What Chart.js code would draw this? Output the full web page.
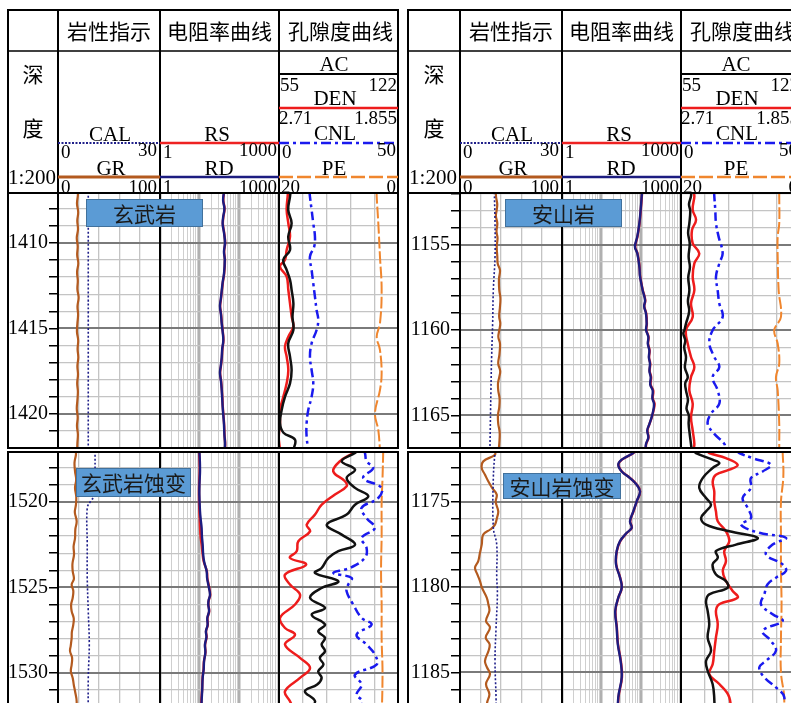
<!DOCTYPE html>
<html><head><meta charset="utf-8">
<script src="https://cdn.jsdelivr.net/npm/chart.js@4.4.0/dist/chart.umd.min.js"></script>
<style>
body{margin:0;background:#fff;}
#root{position:relative;width:791px;height:703px;overflow:hidden;background:#fff;}
canvas{position:absolute;}
.tag{position:absolute;background:#5b9bd5;border:1px solid #41719c;color:#1a1a1a;font:21px "Noto Sans CJK SC",sans-serif;text-align:center;box-sizing:border-box;white-space:nowrap;}
svg{position:absolute;left:0;top:0;}
</style></head><body><div id="root"></div>
<script>
// ---------- depth windows and tick labels ----------
const tlRange = [1407.08, 1421.99];
const trRange = [1151.95, 1166.91];
const blRange = [1517.08, 1532.75];
const brRange = [1172.07, 1187.79];
const tlDepthLabels = [1410, 1415, 1420];
const trDepthLabels = [1155, 1160, 1165];
const blDepthLabels = [1520, 1525, 1530];
const brDepthLabels = [1175, 1180, 1185];

// ---------- curve scales (left value, right value) ----------
const grScale = [0, 100];
const calScale = [0, 30];
const resScale = [1, 1000];
const acScale = [55, 122];
const denScale = [2.71, 1.855];
const cnlScale = [0, 50];
const peScale = [20, 0];
const resGridValues = [1,2,3,4,5,6,7,8,9,10,20,30,40,50,60,70,80,90,100,200,300,400,500,600,700,800,900,1000];

// ---------- 玄武岩 1407–1422 m  [depth, value] ----------
const tlGR = [[1407.0,19.3],[1407.2,19.5],[1407.7,18.6],[1408.2,19.8],[1408.7,18.9],[1409.2,19.6],[1409.7,18.4],[1410.2,19.3],[1410.7,18.8],[1411.2,19.9],[1411.7,18.7],[1412.2,19.4],[1412.7,19.0],[1413.2,20.2],[1413.7,19.1],[1414.2,19.7],[1414.7,19.0],[1415.2,18.6],[1415.7,19.8],[1416.2,19.2],[1416.7,19.9],[1417.2,19.0],[1417.7,19.6],[1418.2,18.8],[1418.7,19.5],[1419.2,19.0],[1419.7,18.4],[1420.2,19.3],[1420.7,18.6],[1421.2,19.5],[1421.7,19.0],[1422.1,18.8]];
const tlCAL = [[1407.0,8.9],[1414.5,8.9],[1422.1,8.9]];
const tlRS = [[1407.0,41.5],[1407.5,39.5],[1408.0,42.5],[1408.5,39.5],[1408.9,38.5],[1409.4,41.5],[1410.0,44],[1410.5,41.5],[1411.0,43.5],[1411.8,41.5],[1412.3,38.5],[1412.8,36.3],[1413.3,34.4],[1413.7,32.8],[1414.2,34.9],[1414.7,36.3],[1415.2,38.4],[1415.7,39.8],[1416.2,37.4],[1416.7,36.3],[1417.2,34.4],[1417.6,32.8],[1418.1,34.9],[1418.6,36.3],[1419.1,37.4],[1419.6,38.4],[1420.1,39.9],[1420.6,41.4],[1421.2,42.4],[1421.7,44],[1422.1,43.4]];
const tlRD = [[1407.0,41],[1407.5,39],[1408.0,42],[1408.5,39],[1408.9,38],[1409.4,41],[1410.0,43.6],[1410.5,41],[1411.0,43],[1411.8,41],[1412.3,38],[1412.8,35.9],[1413.3,34],[1413.7,32.5],[1414.2,34.5],[1414.7,35.9],[1415.2,38],[1415.7,39.4],[1416.2,37],[1416.7,35.9],[1417.2,34],[1417.6,32.5],[1418.1,34.5],[1418.6,35.9],[1419.1,37],[1419.6,38],[1420.1,39.5],[1420.6,41],[1421.2,42],[1421.7,43.6],[1422.1,43]];
const tlAC = [[1407.0,61.5],[1407.29,61.2],[1408.07,60.2],[1408.85,62.1],[1409.63,60.2],[1410.41,61.2],[1410.99,57.4],[1411.58,59.3],[1412.16,61.2],[1412.75,62.1],[1413.53,63.1],[1414.31,62.6],[1415.09,63.1],[1415.87,60.2],[1416.65,61.2],[1417.43,62.1],[1418.21,61.2],[1418.99,58.4],[1419.77,56.5],[1420.55,55.6],[1421.1,57.5],[1421.5,64.0],[1422.1,63.1]];
const tlDEN = [[1407.0,2.645],[1407.29,2.648],[1408.07,2.655],[1408.85,2.643],[1409.63,2.631],[1410.41,2.655],[1410.99,2.667],[1411.38,2.703],[1411.97,2.655],[1412.75,2.643],[1413.53,2.631],[1414.31,2.619],[1414.89,2.607],[1415.48,2.643],[1416.06,2.667],[1416.65,2.655],[1417.43,2.643],[1418.21,2.655],[1418.99,2.679],[1419.77,2.703],[1420.55,2.703],[1421.33,2.712],[1422.1,2.703]];
const tlCNL = [[1407.0,12.8],[1407.29,13.0],[1408.07,13.7],[1408.85,14.4],[1409.63,15.1],[1410.21,14.8],[1410.80,13.0],[1411.58,13.7],[1412.36,14.4],[1413.14,15.1],[1413.92,15.8],[1414.5,16.5],[1415.09,15.8],[1415.87,13.7],[1416.65,13.0],[1417.43,13.7],[1418.21,14.4],[1418.99,13.7],[1419.77,12.3],[1420.55,11.6],[1421.33,11.6],[1422.1,12.3]];
const tlPE = [[1407.0,3.58],[1407.29,3.58],[1408.85,3.31],[1410.80,3.03],[1412.75,2.75],[1414.70,3.03],[1415.48,3.58],[1416.26,3.03],[1417.62,2.75],[1418.60,3.03],[1419.96,3.87],[1420.94,3.31],[1422.1,3.03]];

// ---------- 安山岩 1152–1167 m ----------
const trGR = [[1151.9,35.3],[1152.16,35.3],[1152.6,36.5],[1152.94,36.0],[1153.3,35.2],[1153.73,36.6],[1154.2,35.8],[1154.6,36.8],[1155.1,36.0],[1155.69,36.6],[1156.1,37.0],[1156.47,39.2],[1157.0,38.2],[1157.65,38.5],[1158.1,39.6],[1158.63,39.2],[1159.2,38.4],[1159.6,39.5],[1160.0,38.5],[1160.4,37.6],[1160.78,39.2],[1161.4,38.7],[1161.96,37.5],[1162.4,39.4],[1162.75,38.5],[1163.1,37.3],[1163.53,37.5],[1164.0,38.8],[1164.51,38.5],[1165.0,37.2],[1165.49,37.5],[1166.0,38.9],[1166.67,38.5],[1167.0,38.0]];
const trCAL = [[1151.9,10.1],[1153.73,10.3],[1155.69,10.3],[1157.65,9.8],[1159.61,9.6],[1161.57,9.3],[1163.53,9.1],[1167.0,8.8]];
const trRS = [[1151.9,105],[1152.16,103],[1152.94,97],[1153.73,90],[1154.51,80],[1155.1,70],[1155.49,80],[1156.27,90],[1156.8,93],[1157.06,97],[1157.65,109],[1158.24,126],[1158.6,119],[1159.02,133],[1159.61,138],[1160.0,134],[1160.39,152],[1160.8,148],[1161.18,162],[1161.6,157],[1161.96,168],[1162.4,163],[1162.75,177],[1163.2,172],[1163.53,200],[1164.0,195],[1164.31,216],[1164.7,204],[1165.1,184],[1165.5,161],[1165.88,143],[1166.3,152],[1166.67,133],[1167.0,129]];
const trRD = [[1151.9,104],[1152.16,102],[1152.94,96],[1153.73,89],[1154.51,79],[1155.1,69],[1155.49,79],[1156.27,89],[1156.8,92],[1157.06,96],[1157.65,108],[1158.24,124],[1158.6,118],[1159.02,131],[1159.61,136],[1160.0,132],[1160.39,150],[1160.8,146],[1161.18,159],[1161.6,155],[1161.96,165],[1162.4,160],[1162.75,172],[1163.2,168],[1163.53,193],[1164.0,190],[1164.31,208],[1164.7,200],[1165.1,182],[1165.5,160],[1165.88,141],[1166.3,150],[1166.67,131],[1167.0,128]];
const trAC = [[1151.9,60.8],[1152.16,60.6],[1152.6,59.5],[1153.0,60.2],[1153.73,59.7],[1154.3,59.0],[1154.9,59.9],[1155.69,59.3],[1156.3,60.0],[1156.9,59.1],[1157.65,59.7],[1158.3,58.9],[1158.9,59.6],[1159.61,57.8],[1160.0,56.9],[1160.2,56.3],[1160.6,57.4],[1161.0,56.8],[1161.57,57.8],[1162.2,57.2],[1162.75,58.8],[1163.1,57.4],[1163.53,57.8],[1164.1,58.9],[1164.6,58.1],[1165.0,59.4],[1165.49,59.3],[1166.0,59.8],[1166.67,60.6],[1167.0,61.0]];
const trDEN = [[1151.9,2.618],[1152.16,2.614],[1152.94,2.626],[1153.53,2.602],[1154.12,2.631],[1154.9,2.626],[1155.49,2.579],[1156.08,2.614],[1156.86,2.626],[1157.65,2.614],[1158.43,2.638],[1159.22,2.626],[1160.0,2.674],[1160.78,2.662],[1161.57,2.638],[1162.16,2.614],[1162.75,2.638],[1163.53,2.65],[1164.31,2.626],[1165.1,2.638],[1165.88,2.626],[1166.67,2.614],[1167.0,2.62]];
const trCNL = [[1151.9,13.9],[1152.16,14.0],[1152.94,14.4],[1153.73,14.7],[1154.51,15.8],[1155.49,17.5],[1156.08,16.1],[1156.86,14.7],[1157.65,15.4],[1158.43,16.1],[1159.22,17.5],[1160.0,13.3],[1160.78,11.9],[1161.57,14.0],[1162.16,16.1],[1162.75,13.3],[1163.53,15.4],[1164.31,16.1],[1164.9,12.6],[1165.49,11.2],[1166.08,14.0],[1166.67,18.2],[1167.0,18.6]];
const trPE = [[1151.9,3.49],[1152.16,3.49],[1153.73,3.49],[1154.51,3.75],[1155.69,3.75],[1157.65,3.59],[1159.22,3.2],[1160.0,4.33],[1160.78,3.75],[1161.96,3.49],[1162.75,4.04],[1163.53,3.75],[1165.49,3.49],[1166.67,3.49],[1167.0,3.49]];

// ---------- 玄武岩蚀变 1517–1533 m ----------
const blGR = [[1517.0,17.4],[1517.23,17.6],[1517.7,16.2],[1518.21,16.7],[1518.7,17.8],[1519.18,16.7],[1519.7,17.9],[1520.16,17.6],[1520.6,16.5],[1521.13,18.3],[1521.6,17.0],[1522.11,16.7],[1522.6,15.3],[1523.08,15.7],[1523.6,14.2],[1524.05,14.4],[1524.5,15.6],[1524.83,13.4],[1525.2,15.0],[1525.61,14.4],[1526.0,12.9],[1526.39,13.4],[1526.8,15.4],[1527.17,15.0],[1527.6,13.6],[1527.95,13.4],[1528.4,12.5],[1528.73,11.8],[1529.1,13.8],[1529.51,13.4],[1529.9,12.6],[1530.29,14.4],[1530.7,15.5],[1531.07,16.7],[1531.66,18.3],[1532.8,17.5]];
const blCAL = [[1517.0,10.9],[1518.6,10.9],[1519.57,10.9],[1519.96,9.6],[1520.35,8.6],[1522.5,8.6],[1524.44,8.6],[1526.39,8.9],[1528.34,9.2],[1530.29,8.9],[1532.8,8.9]];
const blRS = [[1517.0,9.6],[1517.6,9.9],[1518.21,10.0],[1518.9,9.7],[1519.57,9.6],[1520.55,9.8],[1521.0,10.0],[1521.52,10.2],[1522.0,10.5],[1522.50,11.2],[1523.0,11.8],[1523.47,12.6],[1524.05,15.2],[1524.45,15.6],[1524.83,16.8],[1525.42,18.5],[1525.75,17.0],[1526.0,16.6],[1526.4,17.4],[1526.78,15.8],[1527.2,16.0],[1527.56,14.5],[1527.9,15.0],[1528.34,13.7],[1528.8,14.0],[1529.32,12.8],[1529.8,12.5],[1530.29,11.8],[1531.0,11.5],[1531.66,11.0],[1532.8,10.9]];
const blRD = [[1517.0,9.8],[1517.6,10.1],[1518.21,10.2],[1518.9,9.9],[1519.57,9.8],[1520.55,10.2],[1521.0,10.6],[1521.52,11.2],[1522.0,11.4],[1522.50,11.9],[1523.0,12.2],[1523.47,12.9],[1524.05,15.0],[1524.45,15.4],[1524.83,16.5],[1525.42,18.2],[1525.75,16.8],[1526.0,16.5],[1526.4,17.2],[1526.78,15.6],[1527.2,15.8],[1527.56,14.4],[1527.9,14.8],[1528.34,13.6],[1528.8,13.9],[1529.32,12.9],[1529.8,12.6],[1530.29,11.9],[1531.0,11.6],[1531.66,11.2],[1532.8,11.0]];
const blAC = [[1517.0,99.5],[1517.13,97.8],[1517.62,90.3],[1518.11,97.8],[1518.60,93.1],[1519.18,97.8],[1519.67,105.3],[1520.16,97.8],[1520.74,93.1],[1521.33,81.9],[1521.91,90.3],[1522.50,97.8],[1522.88,88.4],[1523.27,82.8],[1523.86,79.0],[1524.15,75.3],[1524.64,88.4],[1525.03,79.0],[1525.61,72.5],[1526.2,80.9],[1526.59,73.4],[1527.17,80.9],[1527.56,77.1],[1527.95,80.9],[1528.34,79.0],[1528.73,80.9],[1529.12,78.0],[1529.51,80.0],[1529.90,77.1],[1530.29,79.0],[1530.68,76.5],[1531.07,69.6],[1531.66,75.3],[1532.3,72.0],[1532.8,74.0]];
const blDEN = [[1517.0,2.16],[1517.13,2.176],[1517.62,2.272],[1518.21,2.32],[1518.79,2.236],[1519.08,2.224],[1519.57,2.308],[1520.16,2.403],[1520.74,2.451],[1521.33,2.511],[1521.72,2.487],[1522.30,2.571],[1522.88,2.583],[1523.27,2.631],[1523.66,2.515],[1524.25,2.667],[1524.83,2.631],[1525.42,2.559],[1526.0,2.595],[1526.78,2.703],[1527.37,2.667],[1527.76,2.595],[1528.34,2.667],[1529.12,2.559],[1529.71,2.487],[1530.29,2.559],[1531.07,2.667],[1531.66,2.631],[1532.3,2.60],[1532.8,2.60]];
const blCNL = [[1517.0,35.5],[1517.13,36.1],[1517.62,36.8],[1518.01,39.6],[1518.60,35.4],[1519.18,43.1],[1519.77,41.7],[1520.35,34.7],[1520.94,36.8],[1521.52,40.3],[1522.11,34.7],[1522.69,36.8],[1523.27,36.1],[1523.86,29.8],[1524.15,22.8],[1524.44,30.5],[1524.83,29.1],[1525.22,28.4],[1526.0,31.2],[1526.78,34.7],[1527.17,38.9],[1527.76,32.6],[1528.34,36.8],[1528.93,40.3],[1529.51,41.0],[1530.10,31.9],[1530.68,34.7],[1531.27,32.6],[1531.66,35.0],[1532.8,33.0]];
const blPE = [[1517.0,2.48],[1518.6,2.6],[1520.0,2.75],[1522.0,2.75],[1524.0,2.85],[1526.0,2.75],[1528.0,2.75],[1530.0,2.6],[1532.8,2.75]];

// ---------- 安山岩蚀变 1172–1188 m ----------
const brGR = [[1172.0,34.0],[1172.23,34.3],[1172.62,22.8],[1173.01,21.3],[1173.4,24.5],[1173.79,27.7],[1174.18,31.5],[1174.57,36.0],[1175.0,35.0],[1175.55,37.5],[1175.94,36.2],[1176.33,34.3],[1176.6,30.0],[1176.91,22.8],[1177.50,21.3],[1178.0,19.5],[1178.47,17.9],[1178.86,14.7],[1179.25,17.0],[1179.64,19.6],[1180.03,21.5],[1180.61,26.2],[1181.0,27.8],[1181.39,28.8],[1181.98,25.5],[1182.37,29.4],[1182.95,25.2],[1183.34,29.0],[1183.73,28.0],[1184.32,24.5],[1184.71,26.5],[1185.10,29.4],[1185.68,25.5],[1186.27,28.8],[1186.8,26.5],[1187.9,27.0]];
const brCAL = [[1172.0,10.3],[1173.6,9.8],[1176.5,9.8],[1177.5,10.8],[1179.4,10.8],[1180.4,11.0],[1182.4,10.6],[1184.3,10.3],[1186.5,10.6],[1187.9,10.6]];
const brRS = [[1172.0,67],[1172.13,63.5],[1172.52,32.5],[1172.82,26.6],[1173.21,32.5],[1173.60,52.5],[1173.99,77],[1174.38,93.5],[1174.96,77],[1175.55,63.5],[1176.13,52.5],[1176.52,57.5],[1176.81,43.5],[1177.30,29.5],[1177.88,24.2],[1178.66,23.3],[1179.44,29.3],[1180.03,32.3],[1180.61,26.4],[1181.39,22.3],[1182.37,24.2],[1183.34,25.8],[1184.32,30.5],[1185.29,32.5],[1186.46,26.6],[1187.9,25.3]];
const brRD = [[1172.0,66],[1172.13,62.7],[1172.52,32],[1172.82,26.2],[1173.21,32],[1173.60,51.8],[1173.99,76.4],[1174.38,92.5],[1174.96,76.4],[1175.55,62.7],[1176.13,51.8],[1176.52,57],[1176.81,42.8],[1177.30,29],[1177.88,23.9],[1178.66,23],[1179.44,29],[1180.03,32],[1180.61,26.2],[1181.39,22],[1182.37,23.9],[1183.34,25.5],[1184.32,30],[1185.29,32],[1186.46,26.2],[1187.9,25]];
const brAC = [[1172.0,62.5],[1172.13,63.4],[1172.52,72.8],[1172.72,76.6],[1173.01,72.8],[1173.60,67.2],[1174.18,65.3],[1174.77,69.1],[1175.16,71.9],[1175.55,69.1],[1175.94,66.3],[1176.33,69.1],[1176.72,82.2],[1177.11,98.2],[1177.50,86.0],[1177.88,74.7],[1178.27,75.7],[1178.66,72.8],[1179.25,74.7],[1179.64,80.3],[1180.03,81.3],[1180.42,70.9],[1180.81,69.1],[1181.39,70.0],[1182.17,70.9],[1182.95,70.0],[1183.73,71.9],[1184.32,69.1],[1184.90,70.0],[1185.68,72.8],[1186.46,73.7],[1187.9,74.0]];
const brDEN = [[1172.0,2.52],[1172.13,2.507],[1172.43,2.387],[1172.82,2.303],[1173.11,2.363],[1173.40,2.459],[1173.79,2.482],[1174.38,2.471],[1174.96,2.471],[1175.55,2.459],[1176.13,2.446],[1176.72,2.387],[1177.30,2.363],[1177.88,2.399],[1178.47,2.387],[1179.05,2.41],[1179.64,2.387],[1180.22,2.339],[1180.61,2.303],[1181.0,2.435],[1181.39,2.459],[1182.17,2.446],[1182.95,2.459],[1183.73,2.471],[1184.51,2.482],[1185.10,2.507],[1185.68,2.435],[1186.46,2.363],[1187.9,2.35]];
const brCNL = [[1172.0,23.5],[1172.13,24.5],[1172.43,30.1],[1172.82,37.8],[1173.21,34.3],[1173.60,29.4],[1174.18,29.4],[1174.77,25.9],[1175.35,28.0],[1175.94,29.4],[1176.33,25.2],[1176.81,32.9],[1177.11,44.1],[1177.50,38.5],[1178.08,35.7],[1178.66,42.7],[1179.05,44.1],[1179.44,39.9],[1179.83,36.4],[1180.42,35.0],[1181.0,33.6],[1181.59,38.5],[1181.98,42.7],[1182.56,34.3],[1183.15,37.8],[1183.73,39.9],[1184.32,35.7],[1184.71,32.9],[1185.29,35.0],[1185.88,39.9],[1186.46,43.4],[1187.9,42.0]];
const brPE = [[1172.0,2.92],[1173.5,2.8],[1175.0,3.2],[1177.0,3.2],[1179.0,3.2],[1181.0,3.1],[1183.0,3.2],[1185.0,3.2],[1186.5,2.65],[1187.9,2.9]];

// ---------- styles ----------
const C = {gr:'#b35a1f', cal:'#20208a', rs:'#ee2222', rd:'#1c1c80', ac:'#111111', den:'#ee1c1c', cnl:'#1a1aee', pe:'#f0862e'};
const serif = "'Liberation Serif', 'Times New Roman', serif";
const cjk = "'Noto Sans CJK SC', sans-serif";
const lightGrid = '#c4c4c4';
const root = document.getElementById('root');

function xAxis(range, extra) {
  const lo = Math.min(range[0], range[1]), hi = Math.max(range[0], range[1]);
  return Object.assign({type:'linear', axis:'x', position:'top', display:false, min:lo, max:hi, reverse: range[0] > range[1]}, extra || {});
}
function gridAxis(range, step) {
  return xAxis(range, {display:true, ticks:{display:false, stepSize:step}, border:{display:false},
    grid:{drawTicks:false, color:lightGrid, lineWidth:1.3}, afterFit: s => { s.height = 0; }});
}
function resAxis() {
  const dec = v => [1,10,100,1000].includes(v);
  return {type:'logarithmic', axis:'x', position:'top', display:true, min:resScale[0], max:resScale[1],
    ticks:{display:false}, border:{display:false},
    grid:{drawTicks:false, color: c => (c.tick && dec(c.tick.value)) ? '#b0b0b0' : '#cfcfcf',
      lineWidth: c => (c.tick && dec(c.tick.value)) ? 2.5 : 1},
    afterBuildTicks: s => { s.ticks = resGridValues.map(v => ({value:v})); },
    afterFit: s => { s.height = 0; }};
}
function intTicks(s) { const t = []; for (let v = Math.ceil(s.min); v <= Math.floor(s.max); v++) t.push({value:v}); s.ticks = t; }
function yAxis(yr) {
  const major = c => c.tick && c.tick.value % 5 === 0;
  return {type:'linear', axis:'y', position:'left', min:yr[0], max:yr[1], reverse:true,
    ticks:{display:false}, border:{display:false},
    grid:{drawTicks:false, color: c => major(c) ? '#7a7a7a' : lightGrid, lineWidth: c => major(c) ? 2 : 1.3},
    afterBuildTicks: intTicks, afterFit: s => { s.width = 0; s.paddingTop = 0; s.paddingBottom = 0; }};
}
function ds(points, axisId, color, width, dash) {
  return {data: points.map(p => ({x:p[1], y:p[0]})), xAxisID:axisId, yAxisID:'y', showLine:true,
    pointRadius:0, pointHoverRadius:0, borderColor:color, backgroundColor:color, borderWidth:width,
    borderDash: dash || [], tension:0.4, fill:false};
}
function makeCanvas(left, top, w, h) {
  const c = document.createElement('canvas');
  c.width = w; c.height = h; c.style.left = left + 'px'; c.style.top = top + 'px';
  c.style.width = w + 'px'; c.style.height = h + 'px';
  root.appendChild(c);
  return c;
}
const baseOpts = {responsive:false, animation:false, devicePixelRatio:1, events:[],
  plugins:{legend:{display:false}, tooltip:{enabled:false}}, layout:{padding:0}};

function track(left, top, w, h, yr, scales, datasets) {
  const c = makeCanvas(left, top, w, h);
  scales.y = yAxis(yr);
  new Chart(c, {type:'scatter', data:{datasets}, options:Object.assign({}, baseOpts, {scales})});
}
function depthTrack(P, top, h, yr, labels) {
  const w = P.xd - P.x0;
  const c = makeCanvas(P.x0, top, w + 3, h);
  new Chart(c, {type:'scatter', data:{datasets:[]}, options:Object.assign({}, baseOpts, {scales:{
    x:{type:'linear', axis:'x', display:false, min:0, max:1},
    y:{type:'linear', axis:'y', position:'left', min:yr[0], max:yr[1], reverse:true,
      afterBuildTicks: intTicks,
      afterFit: s => { s.width = w; s.paddingTop = 0; s.paddingBottom = 0; },
      border:{display:false},
      grid:{drawOnChartArea:false, drawTicks:true, tickLength:9, color:'#000', lineWidth:1.5},
      ticks:{autoSkip:false, padding:1, color:'#000', font:{family:serif, size:20},
        callback: v => labels.includes(v) ? String(v) : ''}}
  }})});
}
function interval(P, top, h, yr, labels, d) {
  depthTrack(P, top, h, yr, labels);
  track(P.xd, top, P.xl - P.xd, h, yr,
    {gr: gridAxis(grScale, 20), cal: xAxis(calScale)},
    [ds(d.cal, 'cal', C.cal, 1.6, [2, 2]), ds(d.gr, 'gr', C.gr, 2.2)]);
  track(P.xl, top, P.xr - P.xl, h, yr,
    {res: resAxis()},
    [ds(d.rd, 'res', C.rd, 2.4), ds(d.rs, 'res', C.rs, 2.4)]);
  track(P.xr, top, P.x1 - P.xr, h, yr,
    {cnl: gridAxis(cnlScale, 10), ac: xAxis(acScale), den: xAxis(denScale), pe: xAxis(peScale)},
    [ds(d.ac, 'ac', C.ac, 2.5), ds(d.den, 'den', C.den, 2.5),
     ds(d.cnl, 'cnl', C.cnl, 2.5, [9, 4, 3, 4]), ds(d.pe, 'pe', C.pe, 2, [12, 3])]);
}

const TOP1 = 193, BOT1 = 448, TOP2 = 452, BOT2 = 720;
const PL = {x0:8, xd:58, xl:160, xr:279, x1:398};
const PR = {x0:408, xd:460, xl:562, xr:681, x1:800};

interval(PL, TOP1, BOT1 - TOP1, tlRange, tlDepthLabels, {gr:tlGR, cal:tlCAL, rs:tlRS, rd:tlRD, ac:tlAC, den:tlDEN, cnl:tlCNL, pe:tlPE});
interval(PL, TOP2, BOT2 - TOP2, blRange, blDepthLabels, {gr:blGR, cal:blCAL, rs:blRS, rd:blRD, ac:blAC, den:blDEN, cnl:blCNL, pe:blPE});
interval(PR, TOP1, BOT1 - TOP1, trRange, trDepthLabels, {gr:trGR, cal:trCAL, rs:trRS, rd:trRD, ac:trAC, den:trDEN, cnl:trCNL, pe:trPE});
interval(PR, TOP2, BOT2 - TOP2, brRange, brDepthLabels, {gr:brGR, cal:brCAL, rs:brRS, rd:brRD, ac:brAC, den:brDEN, cnl:brCNL, pe:brPE});

// ---------- frame, header (SVG) ----------
let svg = '';
function line(x1, y1, x2, y2, color, w, dash) {
  svg += `<line x1="${x1}" y1="${y1}" x2="${x2}" y2="${y2}" stroke="${color}" stroke-width="${w}"${dash ? ` stroke-dasharray="${dash}"` : ''}/>`;
}
function text(x, y, s, size, anchor, family) {
  svg += `<text x="${x}" y="${y}" font-size="${size}" text-anchor="${anchor}" font-family="${family}" fill="#000">${s}</text>`;
}
function box(x0, y0, x1, y1) {
  svg += `<rect x="${x0}" y="${y0}" width="${x1 - x0}" height="${y1 - y0}" fill="none" stroke="#000" stroke-width="2"/>`;
}
function header(P) {
  box(P.x0, 10, P.x1, BOT1);
  box(P.x0, TOP2, P.x1, BOT2 + 10);
  line(P.x0, 51, P.x1, 51, '#000', 1.5);
  line(P.x0, TOP1, P.x1, TOP1, '#000', 2);
  [P.xd, P.xl, P.xr].forEach(x => { line(x, 10, x, BOT1, '#000', 2); line(x, TOP2, x, BOT2 + 10, '#000', 2); });
  text((P.xd + P.xl) / 2, 39, '岩性指示', 21, 'middle', cjk);
  text((P.xl + P.xr) / 2, 39, '电阻率曲线', 21, 'middle', cjk);
  text((P.xr + P.x1) / 2 + 2, 39, '孔隙度曲线', 21, 'middle', cjk);
  const dc = (P.x0 + P.xd) / 2;
  text(dc, 82, '深', 21, 'middle', cjk);
  text(dc, 136, '度', 21, 'middle', cjk);
  text(dc - 1, 184, '1:200', 21, 'middle', serif);
  // lithology
  text(P.xd + 52, 141, 'CAL', 21, 'middle', serif);
  line(P.xd, 143, P.xl, 143, C.cal, 2, '2 1.5');
  text(P.xd + 3, 158, '0', 19, 'start', serif);
  text(P.xl - 3, 156, '30', 19, 'end', serif);
  text(P.xd + 53, 175, 'GR', 21, 'middle', serif);
  line(P.xd, 177, P.xl, 177, C.gr, 3);
  text(P.xd + 3, 193, '0', 19, 'start', serif);
  text(P.xl - 3, 193, '100', 19, 'end', serif);
  // resistivity
  text(P.xl + 57, 141, 'RS', 21, 'middle', serif);
  line(P.xl, 143, P.xr, 143, C.rs, 2.5);
  text(P.xl + 3, 158, '1', 19, 'start', serif);
  text(P.xr - 2, 156, '1000', 19, 'end', serif);
  text(P.xl + 59, 175, 'RD', 21, 'middle', serif);
  line(P.xl, 177, P.xr, 177, C.rd, 2.5);
  text(P.xl + 3, 193, '1', 19, 'start', serif);
  text(P.xr - 2, 193, '1000', 19, 'end', serif);
  // porosity
  text(P.xr + 55, 71, 'AC', 21, 'middle', serif);
  line(P.xr, 74, P.x1, 74, '#000', 2);
  text(P.xr + 1, 91, '55', 19, 'start', serif);
  text(P.x1 - 1, 91, '122', 19, 'end', serif);
  text(P.xr + 56, 105, 'DEN', 21, 'middle', serif);
  line(P.xr, 108, P.x1, 108, C.den, 2.5);
  text(P.xr, 124, '2.71', 19, 'start', serif);
  text(P.x1 - 1, 124, '1.855', 19, 'end', serif);
  text(P.xr + 56, 140, 'CNL', 21, 'middle', serif);
  line(P.xr, 143, P.x1, 143, C.cnl, 2.5, '10 4 3 4');
  text(P.xr + 3, 158, '0', 19, 'start', serif);
  text(P.x1 - 2, 156, '50', 19, 'end', serif);
  text(P.xr + 55, 175, 'PE', 21, 'middle', serif);
  line(P.xr, 177, P.x1, 177, C.pe, 2.5, '14 4');
  text(P.xr + 2, 193, '20', 19, 'start', serif);
  text(P.x1 - 2, 193, '0', 19, 'end', serif);
}
header(PL); header(PR);
root.insertAdjacentHTML('beforeend', `<svg width="791" height="703" xmlns="http://www.w3.org/2000/svg">${svg}</svg>`);

// ---------- lithology tags ----------
const tags = [
  {t:'玄武岩', x:86, y:199, w:117, h:28},
  {t:'安山岩', x:505, y:199, w:117, h:28},
  {t:'玄武岩蚀变', x:76, y:468, w:115, h:29},
  {t:'安山岩蚀变', x:503, y:473, w:118, h:26}
];
tags.forEach(g => {
  const d = document.createElement('div');
  d.className = 'tag'; d.textContent = g.t;
  d.style.left = g.x + 'px'; d.style.top = g.y + 'px'; d.style.width = g.w + 'px'; d.style.height = g.h + 'px';
  d.style.lineHeight = (g.h - 2) + 'px';
  root.appendChild(d);
});
</script>
</body></html>
